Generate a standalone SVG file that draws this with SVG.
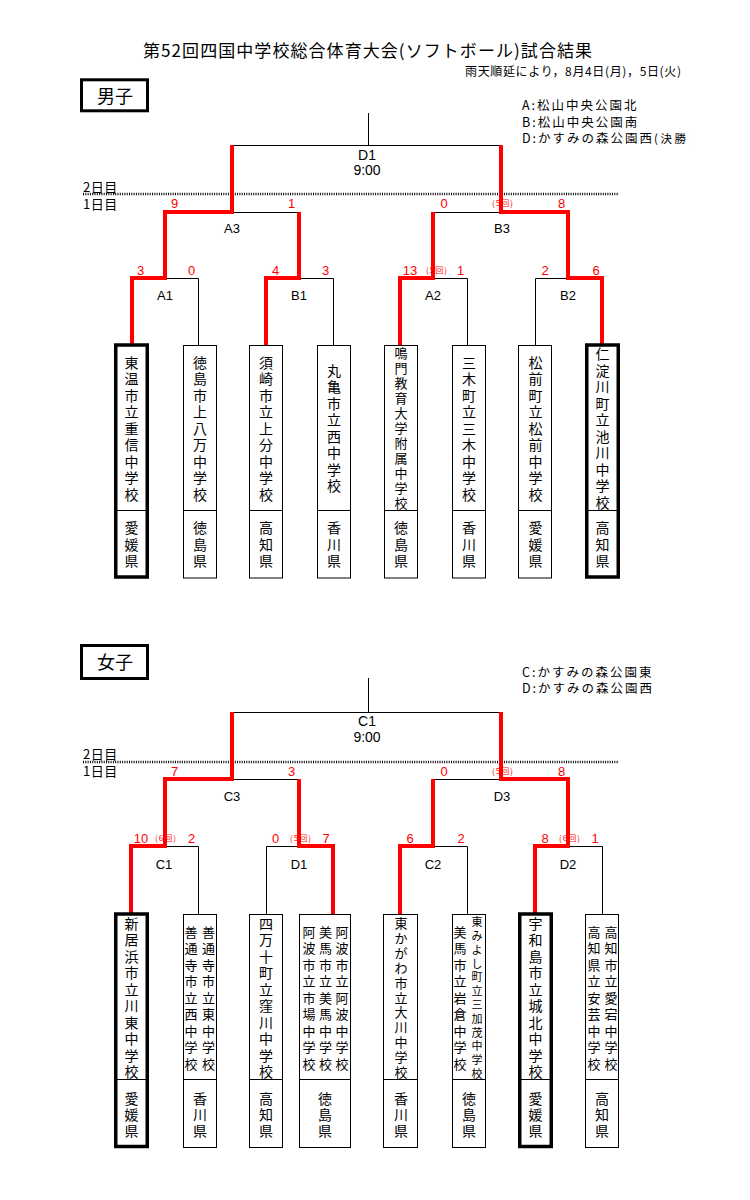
<svg xmlns="http://www.w3.org/2000/svg" width="750" height="1200" viewBox="0 0 750 1200">
<defs>
<style>
.ln{fill:none;stroke:#000;stroke-width:1}
.rd{fill:none;stroke:#f00;stroke-width:4;stroke-linejoin:miter}
.dot{fill:none;stroke:#000;stroke-width:2.5;stroke-dasharray:1 1.3}
.bx{fill:#fff;stroke:#000;stroke-width:1}
.bxt{fill:#fff;stroke:#000;stroke-width:3.5}
.hd{fill:#fff;stroke:#000;stroke-width:3}
.jp{font-family:"Noto Sans CJK JP","Liberation Sans",sans-serif;fill:#000}
.nm{font-family:"Noto Sans CJK JP",sans-serif;font-size:14px;text-anchor:middle;dominant-baseline:central;fill:#000}
.nm13{font-size:13px}
.nm11{font-size:11px}
.sc{font-family:"Liberation Sans",Arial,sans-serif;font-size:13px;fill:#f00;text-anchor:middle}
.inn{font-family:"Noto Sans CJK JP",sans-serif;font-size:8px;fill:#f00;text-anchor:middle;letter-spacing:1px}
.lb{font-family:"Liberation Sans",Arial,sans-serif;font-size:13px;text-anchor:middle;fill:#000}
.lb14{font-size:14px}
.lg{font-family:"Noto Sans CJK JP",sans-serif;font-size:12.5px;fill:#000;letter-spacing:2px}
.day{font-family:"Noto Sans CJK JP",sans-serif;font-size:13px;fill:#000;letter-spacing:0.5px}
</style>
<clipPath id="edge"><rect x="0" y="0" width="689" height="1200"/></clipPath>
</defs>
<rect width="750" height="1200" fill="#fff"/>

<text class="jp" x="367.5" y="57" font-size="17" text-anchor="middle" textLength="449" lengthAdjust="spacing">第52回四国中学校総合体育大会(ソフトボール)試合結果</text>
<text class="jp" x="465" y="75.5" font-size="12" textLength="216" lengthAdjust="spacing">雨天順延により，8月4日(月)，5日(火)</text>

<g id="boys-header">
<rect class="hd" x="81.5" y="79.8" width="66" height="31"/>
<text class="jp" x="115" y="102.5" font-size="18" text-anchor="middle">男子</text>
</g>
<g id="boys-legend" clip-path="url(#edge)">
<text class="lg" x="522" y="109.8">A:松山中央公園北</text>
<text class="lg" x="522" y="126.5">B:松山中央公園南</text>
<text class="lg" x="522" y="143.3">D:かすみの森公園西<tspan font-size="11.5" letter-spacing="2.5">(決勝)</tspan></text>
</g>

<g id="boys-days">
<text class="day" x="83" y="191.7">2日目</text>
<path class="dot" d="M83,194H619"/>
<text class="day" x="83" y="208.7">1日目</text>
</g>

<g id="boys-connectors">
<path class="ln" d="M368.5,113V145.5M232,145.5H501M165,278.5H198.5V345M232,212.5H299M299,278.5H333.5V345M433,278.5H467.5V345M433,212.5H501M568,278.5H535.5V345"/>
<path class="rd" d="M132,345V278H165V212H232V145"/>
<path class="rd" d="M266,345V278H299V212"/>
<path class="rd" d="M400,345V278H433V212"/>
<path class="rd" d="M602,345V278H568V212H501V145"/>
</g>

<g id="boys-match-labels">
<text class="lb lb14" x="367" y="160">D1</text>
<text class="lb lb14" x="367" y="175">9:00</text>
<text class="lb" x="232" y="232.7">A3</text>
<text class="lb" x="502" y="232.7">B3</text>
<text class="lb" x="165" y="299.7">A1</text>
<text class="lb" x="299" y="299.7">B1</text>
<text class="lb" x="433" y="299.7">A2</text>
<text class="lb" x="568" y="299.7">B2</text>
</g>

<g id="boys-scores">
<text class="sc" x="174.5" y="207.7">9</text>
<text class="sc" x="291.5" y="207.7">1</text>
<text class="sc" x="444" y="207.7">0</text>
<text class="inn" x="503" y="206">(5回)</text>
<text class="sc" x="561.5" y="207.7">8</text>
<text class="sc" x="140.5" y="274.7">3</text>
<text class="sc" x="191.5" y="274.7">0</text>
<text class="sc" x="275.5" y="274.7">4</text>
<text class="sc" x="325.5" y="274.7">3</text>
<text class="sc" x="410" y="274.7">13</text>
<text class="inn" x="437" y="273">(5回)</text>
<text class="sc" x="460.5" y="274.7">1</text>
<text class="sc" x="545" y="274.7">2</text>
<text class="sc" x="596" y="274.7">6</text>
</g>

<g id="boys-team1">
<rect class="bxt" x="115.75" y="345" width="31.5" height="232"/>
<path class="ln" d="M115.75,510.5H147.25"/>
<text class="nm" x="131.5 131.5 131.5 131.5 131.5 131.5 131.5 131.5 131.5" y="361.5 378 394.5 411 427.5 444 460.5 477 493.5">東温市立重信中学校</text>
<text class="nm" x="131.5 131.5 131.5" y="527 543.5 560">愛媛県</text>
</g>
<g id="boys-team2">
<rect class="bx" x="183.5" y="345.5" width="33" height="232.5"/>
<path class="ln" d="M183.5,510.5H216.5"/>
<text class="nm" x="200 200 200 200 200 200 200 200 200" y="361.5 378 394.5 411 427.5 444 460.5 477 493.5">徳島市上八万中学校</text>
<text class="nm" x="200 200 200" y="527 543.5 560">徳島県</text>
</g>
<g id="boys-team3">
<rect class="bx" x="249.5" y="345.5" width="33" height="232.5"/>
<path class="ln" d="M249.5,510.5H282.5"/>
<text class="nm" x="266 266 266 266 266 266 266 266 266" y="361.5 378 394.5 411 427.5 444 460.5 477 493.5">須崎市立上分中学校</text>
<text class="nm" x="266 266 266" y="527 543.5 560">高知県</text>
</g>
<g id="boys-team4">
<rect class="bx" x="317.5" y="345.5" width="33" height="232.5"/>
<path class="ln" d="M317.5,510.5H350.5"/>
<text class="nm" x="334 334 334 334 334 334 334 334" y="369.75 386.25 402.75 419.25 435.75 452.25 468.75 485.25">丸亀市立西中学校</text>
<text class="nm" x="334 334 334" y="527 543.5 560">香川県</text>
</g>
<g id="boys-team5">
<rect class="bx" x="384.5" y="345.5" width="33" height="232.5"/>
<path class="ln" d="M384.5,510.5H417.5"/>
<text class="nm nm13" x="401 401 401 401 401 401 401 401 401 401 401" y="352.5 367.5 382.5 397.5 412.5 427.5 442.5 457.5 472.5 487.5 502.5">鳴門教育大学附属中学校</text>
<text class="nm" x="401 401 401" y="527 543.5 560">徳島県</text>
</g>
<g id="boys-team6">
<rect class="bx" x="452.5" y="345.5" width="33" height="232.5"/>
<path class="ln" d="M452.5,510.5H485.5"/>
<text class="nm" x="469 469 469 469 469 469 469 469 469" y="361.5 378 394.5 411 427.5 444 460.5 477 493.5">三木町立三木中学校</text>
<text class="nm" x="469 469 469" y="527 543.5 560">香川県</text>
</g>
<g id="boys-team7">
<rect class="bx" x="518.5" y="345.5" width="33" height="232.5"/>
<path class="ln" d="M518.5,510.5H551.5"/>
<text class="nm" x="535.5 535.5 535.5 535.5 535.5 535.5 535.5 535.5 535.5" y="361.5 378 394.5 411 427.5 444 460.5 477 493.5">松前町立松前中学校</text>
<text class="nm" x="535.5 535.5 535.5" y="527 543.5 560">愛媛県</text>
</g>
<g id="boys-team8">
<rect class="bxt" x="586.75" y="345" width="31.5" height="232"/>
<path class="ln" d="M586.75,510.5H618.25"/>
<text class="nm" x="602.5 602.5 602.5 602.5 602.5 602.5 602.5 602.5 602.5 602.5" y="353.25 369.75 386.25 402.75 419.25 435.75 452.25 468.75 485.25 501.75">仁淀川町立池川中学校</text>
<text class="nm" x="602.5 602.5 602.5" y="527 543.5 560">高知県</text>
</g>

<g id="girls-header">
<rect class="hd" x="81.5" y="645.5" width="66" height="33"/>
<text class="jp" x="115" y="668.5" font-size="18" text-anchor="middle">女子</text>
</g>
<g id="girls-legend">
<text class="lg" x="522" y="676.5">C:かすみの森公園東</text>
<text class="lg" x="522" y="693.2">D:かすみの森公園西</text>
</g>

<g id="girls-days">
<text class="day" x="83" y="758.5">2日目</text>
<path class="dot" d="M83,762H619"/>
<text class="day" x="83" y="775.7">1日目</text>
</g>

<g id="girls-connectors">
<path class="ln" d="M368.5,678V712.5M232,712.5H501M165,846.5H198.5V914M232,779.5H299M266.5,914V846.5H299M433,846.5H467.5V914M433,779.5H501M568,846.5H602.5V914"/>
<path class="rd" d="M131,914V846H165V779H232V712"/>
<path class="rd" d="M333,914V846H299V779"/>
<path class="rd" d="M400,914V846H433V779"/>
<path class="rd" d="M535,914V846H568V779H501V712"/>
</g>

<g id="girls-match-labels">
<text class="lb lb14" x="367" y="726">C1</text>
<text class="lb lb14" x="367" y="742">9:00</text>
<text class="lb" x="232" y="800.7">C3</text>
<text class="lb" x="502" y="800.7">D3</text>
<text class="lb" x="164" y="868.7">C1</text>
<text class="lb" x="299" y="868.7">D1</text>
<text class="lb" x="433" y="868.7">C2</text>
<text class="lb" x="568" y="868.7">D2</text>
</g>

<g id="girls-scores">
<text class="sc" x="174.5" y="775.7">7</text>
<text class="sc" x="291.5" y="775.7">3</text>
<text class="sc" x="444" y="775.7">0</text>
<text class="inn" x="503" y="774">(5回)</text>
<text class="sc" x="561.5" y="775.7">8</text>
<text class="sc" x="141" y="842.7">10</text>
<text class="inn" x="166" y="841">(6回)</text>
<text class="sc" x="191.5" y="842.7">2</text>
<text class="sc" x="275.5" y="842.7">0</text>
<text class="inn" x="301" y="841">(5回)</text>
<text class="sc" x="326" y="842.7">7</text>
<text class="sc" x="410" y="842.7">6</text>
<text class="sc" x="461" y="842.7">2</text>
<text class="sc" x="545" y="842.7">8</text>
<text class="inn" x="570" y="841">(6回)</text>
<text class="sc" x="595" y="842.7">1</text>
</g>

<g id="girls-team1">
<rect class="bxt" x="115.75" y="914" width="31.5" height="232.5"/>
<path class="ln" d="M115.75,1079.5H147.25"/>
<text class="nm" x="131.5 131.5 131.5 131.5 131.5 131.5 131.5 131.5 131.5 131.5" y="922.75 939.25 955.75 972.25 988.75 1005.25 1021.75 1038.25 1054.75 1071.25">新居浜市立川東中学校</text>
<text class="nm" x="131.5 131.5 131.5" y="1097.5 1113.5 1129.5">愛媛県</text>
</g>
<g id="girls-team2">
<rect class="bx" x="183.5" y="914.5" width="33" height="233"/>
<path class="ln" d="M183.5,1079.5H216.5"/>
<text class="nm nm13" x="208.5 208.5 208.5 208.5 208.5 208.5 208.5 208.5 208.5" y="931 947.5 964 980.5 997 1013.5 1030 1046.5 1063">善通寺市立東中学校</text>
<text class="nm nm13" x="191 191 191 191 191 191 191 191 191" y="931 947.5 964 980.5 997 1013.5 1030 1046.5 1063">善通寺市立西中学校</text>
<text class="nm" x="200 200 200" y="1097.5 1113.5 1129.5">香川県</text>
</g>
<g id="girls-team3">
<rect class="bx" x="249.5" y="914.5" width="33" height="233"/>
<path class="ln" d="M249.5,1079.5H282.5"/>
<text class="nm" x="266 266 266 266 266 266 266 266 266 266" y="922.75 939.25 955.75 972.25 988.75 1005.25 1021.75 1038.25 1054.75 1071.25">四万十町立窪川中学校</text>
<text class="nm" x="266 266 266" y="1097.5 1113.5 1129.5">高知県</text>
</g>
<g id="girls-team4">
<rect class="bx" x="299.5" y="914.5" width="51" height="233"/>
<path class="ln" d="M299.5,1079.5H350.5"/>
<text class="nm nm13" x="342 342 342 342 342 342 342 342 342" y="931 947.5 964 980.5 997 1013.5 1030 1046.5 1063">阿波市立阿波中学校</text>
<text class="nm nm13" x="325.5 325.5 325.5 325.5 325.5 325.5 325.5 325.5 325.5" y="931 947.5 964 980.5 997 1013.5 1030 1046.5 1063">美馬市立美馬中学校</text>
<text class="nm nm13" x="309 309 309 309 309 309 309 309 309" y="931 947.5 964 980.5 997 1013.5 1030 1046.5 1063">阿波市立市場中学校</text>
<text class="nm" x="325 325 325" y="1097.5 1113.5 1129.5">徳島県</text>
</g>
<g id="girls-team5">
<rect class="bx" x="383.5" y="914.5" width="34" height="233"/>
<path class="ln" d="M383.5,1079.5H417.5"/>
<text class="nm nm13" x="401 401 401 401 401 401 401 401 401 401 401" y="922.5 937.4 952.3 967.2 982.1 997 1011.9 1026.8 1041.7 1056.6 1071.5">東かがわ市立大川中学校</text>
<text class="nm" x="401 401 401" y="1097.5 1113.5 1129.5">香川県</text>
</g>
<g id="girls-team6">
<rect class="bx" x="452.5" y="914.5" width="33" height="233"/>
<path class="ln" d="M452.5,1079.5H485.5"/>
<text class="nm nm11" x="477 477 477 477 477 477 477 477 477 477 477 477" y="921.1 934.9 948.7 962.5 976.3 990.1 1003.9 1017.7 1031.5 1045.3 1059.1 1072.9">東みよし町立三加茂中学校</text>
<text class="nm nm13" x="460 460 460 460 460 460 460 460 460" y="931 947.5 964 980.5 997 1013.5 1030 1046.5 1063">美馬市立岩倉中学校</text>
<text class="nm" x="469 469 469" y="1097.5 1113.5 1129.5">徳島県</text>
</g>
<g id="girls-team7">
<rect class="bxt" x="519.75" y="914" width="31.5" height="232.5"/>
<path class="ln" d="M519.75,1079.5H551.25"/>
<text class="nm" x="535.5 535.5 535.5 535.5 535.5 535.5 535.5 535.5 535.5 535.5" y="922.75 939.25 955.75 972.25 988.75 1005.25 1021.75 1038.25 1054.75 1071.25">宇和島市立城北中学校</text>
<text class="nm" x="535.5 535.5 535.5" y="1097.5 1113.5 1129.5">愛媛県</text>
</g>
<g id="girls-team8">
<rect class="bx" x="585.5" y="914.5" width="33" height="233"/>
<path class="ln" d="M585.5,1079.5H618.5"/>
<text class="nm nm13" x="611 611 611 611 611 611 611 611 611" y="931 947.5 964 980.5 997 1013.5 1030 1046.5 1063">高知市立愛宕中学校</text>
<text class="nm nm13" x="594 594 594 594 594 594 594 594 594" y="931 947.5 964 980.5 997 1013.5 1030 1046.5 1063">高知県立安芸中学校</text>
<text class="nm" x="602 602 602" y="1097.5 1113.5 1129.5">高知県</text>
</g>
</svg>
